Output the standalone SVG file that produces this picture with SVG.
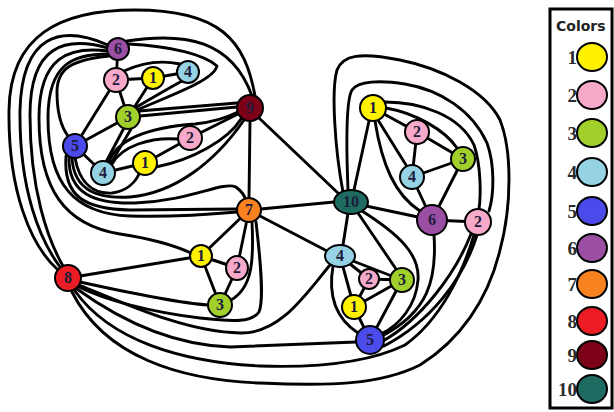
<svg xmlns="http://www.w3.org/2000/svg" width="614" height="412" viewBox="0 0 614 412">
<style>
.e{fill:none;stroke:#000;stroke-width:2.9;stroke-linecap:round;stroke-linejoin:round}
.n{stroke:#000;stroke-width:2}
.t{font-family:"Liberation Serif","DejaVu Serif",serif;font-weight:bold;font-size:16px;fill:#1c1c3a;text-anchor:middle}
.lt{font-family:"Liberation Serif","DejaVu Serif",serif;font-weight:bold;font-size:19px;fill:#2a2a2a;text-anchor:end}
.c1{fill:#fff200}.c2{fill:#f7a9c9}.c3{fill:#a2d02a}.c4{fill:#95d2e3}.c5{fill:#4b4bec}
.c6{fill:#9a4ea4}.c7{fill:#f7821f}.c8{fill:#ec1c24}.c9{fill:#7c0018}.c10{fill:#1e6b61}
</style>
<rect width="614" height="412" fill="#fff"/>
<g id="connectors">
<path class="e" d="M118,49 L116,80"/>
<path class="e" d="M116,80 L153,78"/>
<path class="e" d="M153,78 L188,72"/>
<path class="e" d="M116,80 L128,117"/>
<path class="e" d="M153,78 L128,117"/>
<path class="e" d="M124,71 Q152,58 180,64"/>
<path class="e" d="M135,108 Q162,92 182,81"/>
<path class="e" d="M128,44 C172,46 205,55 217,66 C214,80 172,95 137,110"/>
<path class="e" d="M127,41 C185,32 232,40 252,96"/>
<path class="e" d="M255,96 C245,40 220,10 135,10 C60,10 10,35 9,110 C8,190 30,245 58,270"/>
<path class="e" d="M108,45 C60,24 22,35 20,110 C19,190 40,240 60,267"/>
<path class="e" d="M108,48 C65,36 30,45 30,115 C30,190 48,240 63,266"/>
<path class="e" d="M108,51 C70,46 39,56 39,118 C39,190 65,225 120,234 C160,240 180,248 191,253"/>
<path class="e" d="M108,54 C75,54 48,62 48,118 C48,185 75,214 130,216 C170,217 215,214 237,212"/>
<path class="e" d="M109,56 C72,60 57,68 57,92 C57,115 62,128 68,136"/>
<path class="e" d="M75,158 C80,185 95,194 112,193 C126,191 135,183 139,174"/>
<path class="e" d="M72,158 C74,192 100,199 130,197 C175,193 215,162 244,120"/>
<path class="e" d="M69,157 C68,194 95,204 135,203 C190,201 222,181 236,187 C241,191 244,195 245,198"/>
<path class="e" d="M66,156 C63,197 85,209 130,210 L237,209"/>
<path class="e" d="M75,146 L128,117"/>
<path class="e" d="M75,146 L116,80"/>
<path class="e" d="M75,146 L103,173"/>
<path class="e" d="M124,128 L106,162"/>
<path class="e" d="M131,129 L111,163"/>
<path class="e" d="M103,173 L145,163"/>
<path class="e" d="M145,163 L190,138"/>
<path class="e" d="M190,138 L250,108"/>
<path class="e" d="M156,167 C192,160 228,140 241,119"/>
<path class="e" d="M112,164 C122,146 150,137 178,139"/>
<path class="e" d="M109,162 C118,136 155,127 195,124 C215,122 230,116 238,112"/>
<path class="e" d="M140,116 L237,107"/>
<path class="e" d="M139,111 L237,103"/>
<path class="e" d="M250,121 L249,198"/>
<path class="e" d="M259,118 L339,194"/>
<path class="e" d="M261,209 L334,202"/>
<path class="e" d="M260,216 L327,251"/>
<path class="e" d="M249,210 L201,256"/>
<path class="e" d="M249,210 L237,268"/>
<path class="e" d="M252,222 C254,262 252,288 231,300"/>
<path class="e" d="M256,222 C261,265 264,300 259,312 C252,322 235,322 200,318 C150,312 105,300 79,287"/>
<path class="e" d="M201,256 L237,268"/>
<path class="e" d="M201,256 L220,305"/>
<path class="e" d="M237,268 L220,305"/>
<path class="e" d="M68,278 L201,256"/>
<path class="e" d="M80,282 C130,293 180,303 208,305"/>
<path class="e" d="M79,285 C140,310 190,332 240,333 C280,334 305,295 330,265"/>
<path class="e" d="M77,289 C120,320 170,345 230,347 L356,342"/>
<path class="e" d="M75,291 C110,340 180,362 260,366 C320,368 370,362 405,345 C440,320 462,275 474,235"/>
<path class="e" d="M343,192 C335,150 331,90 337,70 C343,55 360,52 400,60 C440,68 485,90 500,120 C512,150 512,205 500,250 C488,300 460,340 420,365 C380,385 330,386 260,383 C180,380 105,357 72,292"/>
<path class="e" d="M354,190 L369,121"/>
<path class="e" d="M348,190 C346,140 346,100 352,90 C358,81 380,80 405,84 C440,90 472,110 487,143 C495,165 494,195 489,211"/>
<path class="e" d="M385,102 C420,102 460,115 474,145 C481,165 481,195 479,209"/>
<path class="e" d="M386,108 C415,113 445,130 457,148"/>
<path class="e" d="M373,108 L417,132"/>
<path class="e" d="M417,132 L463,159"/>
<path class="e" d="M417,132 L412,177"/>
<path class="e" d="M412,177 L463,159"/>
<path class="e" d="M412,177 L432,220"/>
<path class="e" d="M463,159 L432,220"/>
<path class="e" d="M432,220 L478,222"/>
<path class="e" d="M366,206 L418,217"/>
<path class="e" d="M378,120 L406,165"/>
<path class="e" d="M375,121 C382,165 395,195 420,211"/>
<path class="e" d="M434,235 C437,280 428,312 382,336"/>
<path class="e" d="M471,234 C455,275 420,320 383,341"/>
<path class="e" d="M477,235 C463,280 430,322 384,346"/>
<path class="e" d="M348,213 L343,245"/>
<path class="e" d="M358,213 L396,269"/>
<path class="e" d="M362,211 C400,235 420,255 418,280 C416,305 400,325 381,334"/>
<path class="e" d="M340,256 L369,279"/>
<path class="e" d="M340,256 L402,280"/>
<path class="e" d="M340,256 L354,307"/>
<path class="e" d="M369,279 L402,280"/>
<path class="e" d="M369,279 L354,307"/>
<path class="e" d="M354,307 L402,280"/>
<path class="e" d="M354,307 L370,340"/>
<path class="e" d="M402,280 L370,340"/>
<path class="e" d="M333,266 C328,295 335,318 358,333"/>
</g>
<g id="n-a6"><circle class="n c6" cx="118" cy="49" r="11"/><text class="t" x="118" y="54">6</text></g>
<g id="n-a2"><circle class="n c2" cx="116" cy="80" r="12"/><text class="t" x="116" y="85">2</text></g>
<g id="n-a1"><circle class="n c1" cx="153" cy="78" r="11"/><text class="t" x="153" y="83">1</text></g>
<g id="n-a4"><circle class="n c4" cx="188" cy="72" r="11"/><text class="t" x="188" y="77">4</text></g>
<g id="n-a3"><circle class="n c3" cx="128" cy="117" r="12"/><text class="t" x="128" y="122">3</text></g>
<g id="n-a9"><circle class="n c9" cx="250" cy="108" r="13"/><text class="t" x="250" y="113">9</text></g>
<g id="n-b2"><circle class="n c2" cx="190" cy="138" r="12"/><text class="t" x="190" y="143">2</text></g>
<g id="n-a5"><circle class="n c5" cx="75" cy="146" r="12"/><text class="t" x="75" y="151">5</text></g>
<g id="n-b4"><circle class="n c4" cx="103" cy="173" r="12"/><text class="t" x="103" y="178">4</text></g>
<g id="n-b1"><circle class="n c1" cx="145" cy="163" r="12"/><text class="t" x="145" y="168">1</text></g>
<g id="n-a7"><circle class="n c7" cx="249" cy="210" r="12"/><text class="t" x="249" y="215">7</text></g>
<g id="n-a8"><circle class="n c8" cx="68" cy="278" r="13"/><text class="t" x="68" y="283">8</text></g>
<g id="n-c1"><circle class="n c1" cx="201" cy="256" r="11"/><text class="t" x="201" y="261">1</text></g>
<g id="n-c2"><ellipse class="n c2" cx="237" cy="268" rx="11" ry="12"/><text class="t" x="237" y="273">2</text></g>
<g id="n-c3"><circle class="n c3" cx="220" cy="305" r="12"/><text class="t" x="220" y="310">3</text></g>
<g id="n-t10"><ellipse class="n c10" cx="351" cy="202" rx="17" ry="12"/><text class="t" x="351" y="207">10</text></g>
<g id="n-d1"><circle class="n c1" cx="373" cy="108" r="13"/><text class="t" x="373" y="113">1</text></g>
<g id="n-d2"><circle class="n c2" cx="417" cy="132" r="12"/><text class="t" x="417" y="137">2</text></g>
<g id="n-d3"><circle class="n c3" cx="463" cy="159" r="12"/><text class="t" x="463" y="164">3</text></g>
<g id="n-d4"><circle class="n c4" cx="412" cy="177" r="12"/><text class="t" x="412" y="182">4</text></g>
<g id="n-d6"><circle class="n c6" cx="432" cy="220" r="15"/><text class="t" x="432" y="225">6</text></g>
<g id="n-e2"><circle class="n c2" cx="478" cy="222" r="13"/><text class="t" x="478" y="227">2</text></g>
<g id="n-e4"><ellipse class="n c4" cx="340" cy="256" rx="15" ry="11"/><text class="t" x="340" y="261">4</text></g>
<g id="n-f2"><circle class="n c2" cx="369" cy="279" r="10"/><text class="t" x="369" y="284">2</text></g>
<g id="n-f3"><circle class="n c3" cx="402" cy="280" r="12"/><text class="t" x="402" y="285">3</text></g>
<g id="n-e1"><circle class="n c1" cx="354" cy="307" r="12"/><text class="t" x="354" y="312">1</text></g>
<g id="n-e5"><circle class="n c5" cx="370" cy="340" r="14"/><text class="t" x="370" y="345">5</text></g>
<g id="legend">
<rect x="550" y="9" width="62" height="399" fill="#fff" stroke="#000" stroke-width="3"/>
<text x="556" y="31" font-family="'DejaVu Sans',sans-serif" font-weight="bold" font-size="14" fill="#222">Colors</text>
<ellipse class="n c1" cx="592" cy="57" rx="15" ry="14"/><text class="lt" x="577" y="64">1</text>
<ellipse class="n c2" cx="592" cy="95" rx="15" ry="14"/><text class="lt" x="577" y="102">2</text>
<ellipse class="n c3" cx="592" cy="133" rx="15" ry="14"/><text class="lt" x="577" y="140">3</text>
<ellipse class="n c4" cx="592" cy="172" rx="15" ry="14"/><text class="lt" x="577" y="179">4</text>
<ellipse class="n c5" cx="592" cy="211" rx="15" ry="14"/><text class="lt" x="577" y="218">5</text>
<ellipse class="n c6" cx="592" cy="248" rx="15" ry="14"/><text class="lt" x="577" y="255">6</text>
<ellipse class="n c7" cx="592" cy="284" rx="15" ry="14"/><text class="lt" x="577" y="291">7</text>
<ellipse class="n c8" cx="592" cy="321" rx="15" ry="14"/><text class="lt" x="577" y="328">8</text>
<ellipse class="n c9" cx="592" cy="355" rx="15" ry="14"/><text class="lt" x="577" y="362">9</text>
<ellipse class="n c10" cx="592" cy="389" rx="15" ry="14"/><text class="lt" x="577" y="396">10</text>
</g>
</svg>
